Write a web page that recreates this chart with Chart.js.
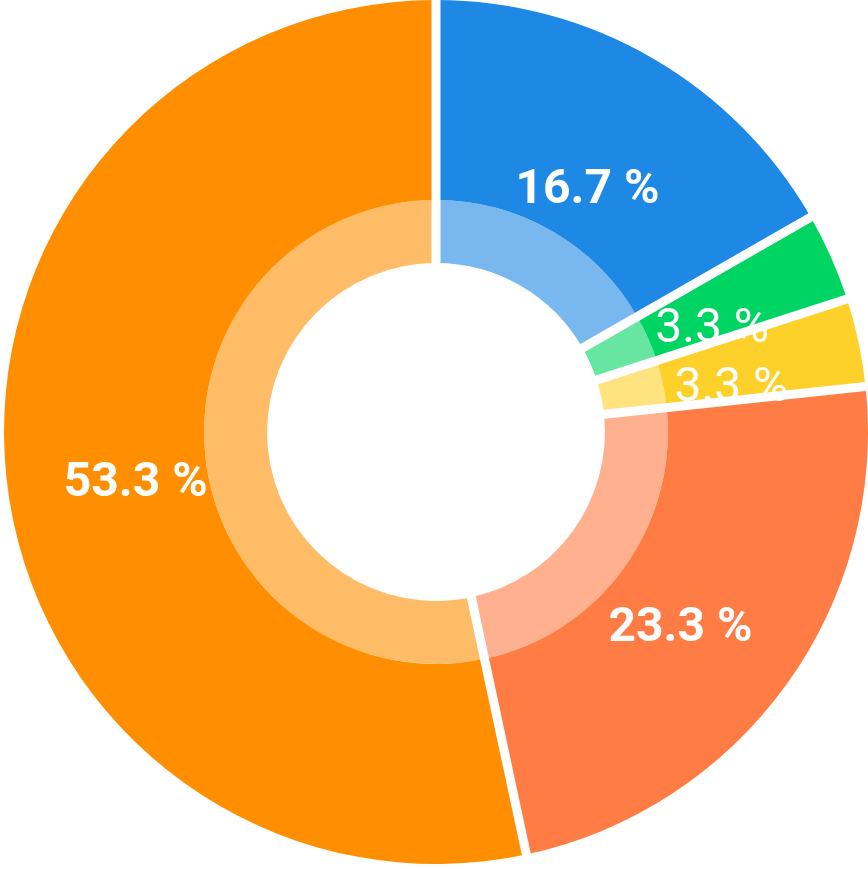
<!DOCTYPE html>
<html>
<head>
<meta charset="utf-8">
<script src="https://cdn.jsdelivr.net/npm/chart.js@4.4.1/dist/chart.umd.min.js"></script>
<style>
    html, body { margin: 0; padding: 0; background: #ffffff; }
    #wrap { width: 868px; height: 869px; }
</style>
</head>
<body>
<div id="wrap"><canvas id="myChart" width="868" height="869"></canvas></div>
<script>
// Segment data, clockwise from 12 o'clock
const categories = ['Blue', 'Green', 'Yellow', 'Coral', 'Orange'];
const shares = [16.7, 3.3, 3.3, 23.3, 53.3];
const valueLabels = ['16.7 %', '3.3 %', '3.3 %', '23.3 %', '53.3 %'];

const darkColors = ['#1e88e5', '#00d563', '#fdd02a', '#ff7d45', '#ff8f00'];

// lighter inner band = same colour at 60% over white
function lighten(hex, a) {
    const n = parseInt(hex.slice(1), 16);
    const r = (n >> 16) & 255, g = (n >> 8) & 255, b = n & 255;
    const mix = c => Math.round(c * a + 255 * (1 - a));
    return `rgb(${mix(r)}, ${mix(g)}, ${mix(b)})`;
}
const lightColors = darkColors.map(c => lighten(c, 0.6));

// white separators between slices, drawn along each arc's start angle
const gapLines = {
    id: 'gapLines',
    afterDatasetsDraw(chart) {
        const outer = chart.getDatasetMeta(0).data;
        const inner = chart.getDatasetMeta(1).data;
        if (!outer.length) return;
        const ctx = chart.ctx;
        const r0 = inner[0].innerRadius - 2;
        const r1 = outer[0].outerRadius + 4;
        ctx.save();
        ctx.strokeStyle = '#ffffff';
        ctx.lineWidth = 9;
        outer.forEach(arc => {
            const a = arc.startAngle;
            ctx.beginPath();
            ctx.moveTo(arc.x + Math.cos(a) * r0, arc.y + Math.sin(a) * r0);
            ctx.lineTo(arc.x + Math.cos(a) * r1, arc.y + Math.sin(a) * r1);
            ctx.stroke();
        });
        ctx.restore();
    }
};

// percentage labels at the middle of each slice
const sliceLabels = {
    id: 'sliceLabels',
    afterDraw(chart) {
        const outer = chart.getDatasetMeta(0).data;
        const ctx = chart.ctx;
        ctx.save();
        ctx.fillStyle = '#ffffff';
        ctx.textAlign = 'center';
        ctx.textBaseline = 'middle';
        outer.forEach((arc, i) => {
            const mid = (arc.startAngle + arc.endAngle) / 2;
            const r = 302;
            const weight = shares[i] < 5 ? 'normal' : 'bold';
            ctx.font = `${weight} 48px Roboto, "Noto Sans", sans-serif`;
            ctx.fillText(valueLabels[i], arc.x + Math.cos(mid) * r, arc.y + Math.sin(mid) * r + 20);
        });
        ctx.restore();
    }
};

const ctx = document.getElementById('myChart').getContext('2d');
new Chart(ctx, {
    type: 'doughnut',
    data: {
        labels: categories,
        datasets: [
            {
                data: shares,
                backgroundColor: darkColors,
                borderWidth: 0,
                weight: 200
            },
            {
                data: shares,
                backgroundColor: lightColors,
                borderWidth: 0,
                weight: 63
            }
        ]
    },
    options: {
        responsive: false,
        animation: false,
        cutout: '39.1%',
        layout: { padding: { left: 4, right: 0, top: 0, bottom: 5 } },
        plugins: {
            legend: { display: false },
            tooltip: { enabled: false }
        }
    },
    plugins: [gapLines, sliceLabels]
});
</script>
</body>
</html>
